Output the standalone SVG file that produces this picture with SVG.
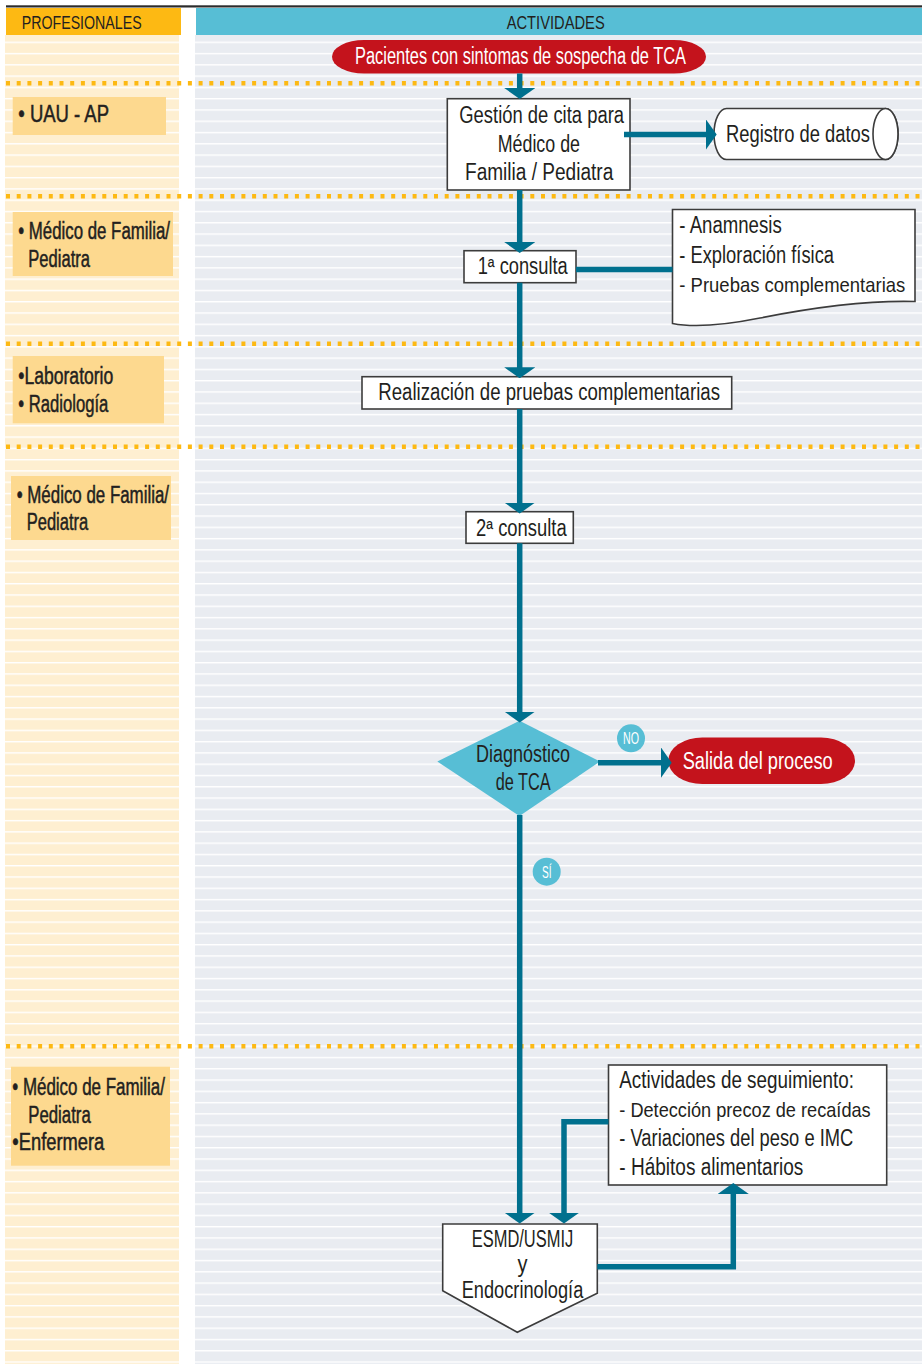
<svg xmlns="http://www.w3.org/2000/svg" width="922" height="1364" viewBox="0 0 922 1364">
<style>
.t{font-family:"Liberation Sans Narrow","Liberation Sans",Arial,sans-serif;fill:#231f20;font-size:23px}
.lt{font-size:23px;stroke:#231f20;stroke-width:0.5}
.nr{font-size:21px}
.w{fill:#ffffff}
.hd{font-size:18.5px}
.sm{font-size:16px}
.box{fill:#ffffff;stroke:#3c3c3c;stroke-width:1.6}
.lab{fill:#fdd98f}
.dot{stroke:#fdb913;stroke-width:4.5;stroke-dasharray:4 6.7;fill:none}
.cn{fill:none;stroke:#00708e;stroke-width:5.5}
.cna{fill:none;stroke:#00708e;stroke-width:5.5;marker-end:url(#ah)}
</style>
<defs>
<pattern id="stripes" patternUnits="userSpaceOnUse" x="0" y="41.6" width="922" height="11.28">
<rect x="0" y="0" width="922" height="1.4" fill="#ffffff"/>
</pattern>
<marker id="ah" viewBox="0 0 11 31" refX="8" refY="15.5" markerWidth="11" markerHeight="31" markerUnits="userSpaceOnUse" orient="auto">
<path d="M0,0 L11,15.5 L0,31 Z" fill="#00708e"/>
</marker>
</defs>

<g id="background">
<rect x="0" y="0" width="922" height="1364" fill="#ffffff"/>
<rect x="5" y="35" width="174" height="1329" fill="#feefd1"/>
<rect x="195" y="35" width="727" height="1329" fill="#e9ecf1"/>
<rect x="5" y="35" width="174" height="1329" fill="url(#stripes)"/>
<rect x="195" y="35" width="727" height="1329" fill="url(#stripes)"/>
<rect x="6" y="5.3" width="916" height="2.2" fill="#2b2b2b"/>
<rect x="6" y="8" width="175" height="27" fill="#fdb913"/>
<rect x="196" y="8" width="726" height="27" fill="#57bed5"/>
<text class="t hd" x="21.7" y="29.3" textLength="120" lengthAdjust="spacingAndGlyphs">PROFESIONALES</text>
<text class="t hd" x="506.7" y="29.3" textLength="98" lengthAdjust="spacingAndGlyphs">ACTIVIDADES</text>
<line class="dot" x1="6" y1="83.3" x2="922" y2="83.3"/>
<line class="dot" x1="6" y1="196.3" x2="922" y2="196.3"/>
<line class="dot" x1="6" y1="343.8" x2="922" y2="343.8"/>
<line class="dot" x1="6" y1="446.7" x2="922" y2="446.7"/>
<line class="dot" x1="6" y1="1046.3" x2="922" y2="1046.3"/>
</g>

<g id="lane-uau">
<rect class="lab" x="12.7" y="97" width="153.3" height="38"/>
<text class="t lt" x="18.3" y="121.7" textLength="90.7" lengthAdjust="spacingAndGlyphs">• UAU - AP</text>
</g>
<g id="lane-medico1">
<rect class="lab" x="12.7" y="212" width="160.3" height="64"/>
<text class="t lt" x="18.3" y="239.3" textLength="151.7" lengthAdjust="spacingAndGlyphs">• Médico de Familia/</text>
<text class="t lt" x="28.3" y="267.3" textLength="61.7" lengthAdjust="spacingAndGlyphs">Pediatra</text>
</g>
<g id="lane-lab">
<rect class="lab" x="12.7" y="356" width="151.3" height="67.3"/>
<text class="t lt" x="18.3" y="384.3" textLength="95" lengthAdjust="spacingAndGlyphs">•Laboratorio</text>
<text class="t lt" x="18.3" y="411.7" textLength="90" lengthAdjust="spacingAndGlyphs">• Radiología</text>
</g>
<g id="lane-medico2">
<rect class="lab" x="11" y="476" width="160" height="64"/>
<text class="t lt" x="16.7" y="503.3" textLength="152.3" lengthAdjust="spacingAndGlyphs">• Médico de Familia/</text>
<text class="t lt" x="26.7" y="530" textLength="61.6" lengthAdjust="spacingAndGlyphs">Pediatra</text>
</g>
<g id="lane-medico3">
<rect class="lab" x="11" y="1066.7" width="159" height="99"/>
<text class="t lt" x="12.3" y="1095" textLength="152.7" lengthAdjust="spacingAndGlyphs">• Médico de Familia/</text>
<text class="t lt" x="28.3" y="1122.7" textLength="62.4" lengthAdjust="spacingAndGlyphs">Pediatra</text>
<text class="t lt" x="12.3" y="1150" textLength="92" lengthAdjust="spacingAndGlyphs">•Enfermera</text>
</g>

<g id="node-pacientes">
<rect x="332" y="40" width="374" height="33.5" rx="32" ry="16.75" fill="#c4131c"/>
<text class="t w" x="355" y="63.5" textLength="331" lengthAdjust="spacingAndGlyphs">Pacientes con sintomas de sospecha de TCA</text>
</g>

<g id="node-gestion">
<rect class="box" x="447.3" y="98.7" width="182.7" height="91.3"/>
<text class="t" x="459.3" y="123.3" textLength="164.7" lengthAdjust="spacingAndGlyphs">Gestión de cita para</text>
<text class="t" x="497.7" y="151.7" textLength="82.3" lengthAdjust="spacingAndGlyphs">Médico de</text>
<text class="t" x="465" y="180" textLength="148.3" lengthAdjust="spacingAndGlyphs">Familia / Pediatra</text>
</g>

<g id="node-registro">
<path class="box" d="M726.5,108.5 H885.5 A12.5,25.5 0 0 1 885.5,159.5 H726.5 A12.5,25.5 0 0 1 726.5,108.5 Z"/>
<ellipse class="box" cx="885.5" cy="134" rx="12.5" ry="25.5"/>
<text class="t" x="726" y="142" textLength="144" lengthAdjust="spacingAndGlyphs">Registro de datos</text>
</g>

<g id="node-consulta1">
<rect class="box" x="464" y="250.7" width="112" height="32"/>
<text class="t" x="477.7" y="274" textLength="90" lengthAdjust="spacingAndGlyphs">1ª consulta</text>
</g>

<g id="node-nota1">
<path class="box" d="M672.5,209.5 H915 V301.5 C860,300 800,310 760,318 C720,326 690,327 672.5,323.5 Z"/>
<text class="t" x="679.3" y="233.3" textLength="102.4" lengthAdjust="spacingAndGlyphs">- Anamnesis</text>
<text class="t" x="679.3" y="262.7" textLength="154.7" lengthAdjust="spacingAndGlyphs">- Exploración física</text>
<text class="t nr" x="679.3" y="291.7" textLength="226" lengthAdjust="spacingAndGlyphs">- Pruebas complementarias</text>
</g>

<g id="node-realizacion">
<rect class="box" x="362" y="376.7" width="369.7" height="32.3"/>
<text class="t" x="378.3" y="400" textLength="341.7" lengthAdjust="spacingAndGlyphs">Realización de pruebas complementarias</text>
</g>

<g id="node-consulta2">
<rect class="box" x="466" y="511.7" width="107.3" height="31.6"/>
<text class="t" x="476" y="535.5" textLength="90.7" lengthAdjust="spacingAndGlyphs">2ª consulta</text>
</g>

<g id="node-diagnostico">
<polygon points="519.5,720.7 600,761.5 519.5,816 437.3,761.5" fill="#57bed5"/>
<text class="t" x="476" y="761.7" textLength="94" lengthAdjust="spacingAndGlyphs">Diagnóstico</text>
<text class="t" x="495.7" y="790" textLength="55" lengthAdjust="spacingAndGlyphs">de TCA</text>
</g>

<g id="node-salida">
<rect x="668.3" y="737.5" width="186.7" height="46.5" rx="34" ry="23.25" fill="#c4131c"/>
<text class="t w" x="682.7" y="769" textLength="150" lengthAdjust="spacingAndGlyphs">Salida del proceso</text>
</g>

<g id="node-esmd">
<polygon class="box" points="442.7,1224 597.3,1224 597.3,1293.3 517.3,1332.3 442.7,1290.7"/>
<text class="t" x="471.7" y="1246.7" textLength="101.6" lengthAdjust="spacingAndGlyphs">ESMD/USMIJ</text>
<text class="t" x="517.5" y="1272" textLength="10" lengthAdjust="spacingAndGlyphs">y</text>
<text class="t" x="461.7" y="1297.5" textLength="121.6" lengthAdjust="spacingAndGlyphs">Endocrinología</text>
</g>

<g id="node-seguimiento">
<rect class="box" x="608.5" y="1065" width="278.2" height="120"/>
<text class="t" x="619.3" y="1088.3" textLength="234.7" lengthAdjust="spacingAndGlyphs">Actividades de seguimiento:</text>
<text class="t nr" x="619.3" y="1116.7" textLength="251.4" lengthAdjust="spacingAndGlyphs">- Detección precoz de recaídas</text>
<text class="t" x="619.3" y="1146" textLength="234" lengthAdjust="spacingAndGlyphs">- Variaciones del peso e IMC</text>
<text class="t" x="619.3" y="1175" textLength="184" lengthAdjust="spacingAndGlyphs">- Hábitos alimentarios</text>
</g>

<g id="connectors">
<path class="cna" d="M519.7,73.5 V96"/>
<path class="cna" d="M519.7,190 V250"/>
<path class="cna" d="M519.7,282.7 V375.3"/>
<path class="cna" d="M519.7,409 V510.5"/>
<path class="cna" d="M519.7,543.3 V719.5"/>
<path class="cna" d="M519.7,815 V1220.5"/>
<path class="cna" d="M624,134.5 H713.7"/>
<path class="cn" d="M576,269.5 H672.5"/>
<path class="cna" d="M598,762.7 H668.7"/>
<path class="cna" d="M608.5,1121.7 H564 V1220.5"/>
<path class="cna" d="M597.3,1266.8 H733.3 V1186"/>
</g>

<g id="label-no">
<circle cx="631" cy="738.3" r="14" fill="#57bed5"/>
<text class="t w sm" x="623" y="744" textLength="16" lengthAdjust="spacingAndGlyphs">NO</text>
</g>
<g id="label-si">
<circle cx="546.7" cy="871.7" r="14" fill="#57bed5"/>
<text class="t w sm" x="542" y="877.5" textLength="9.5" lengthAdjust="spacingAndGlyphs">SÍ</text>
</g>
</svg>
